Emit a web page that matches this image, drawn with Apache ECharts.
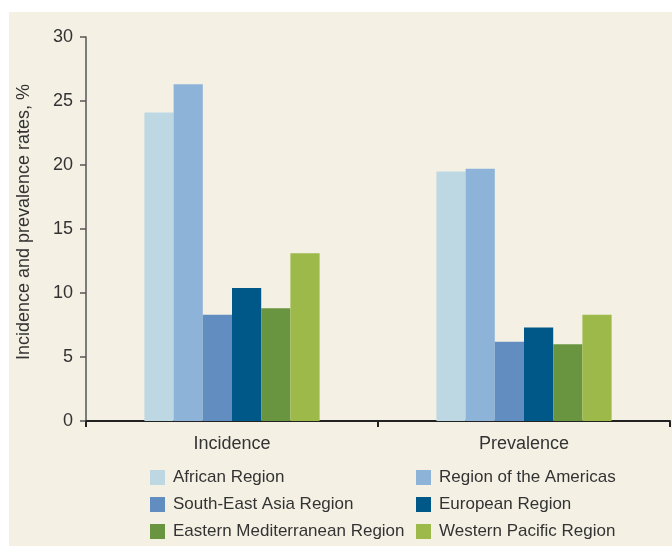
<!DOCTYPE html>
<html><head><meta charset="utf-8">
<script src="https://cdn.jsdelivr.net/npm/echarts@6/dist/echarts.min.js"></script>
<style>html,body{margin:0;padding:0;background:#fff}#c{width:672px;height:546px}</style>
</head><body><div id="c"></div>
<script>
var categories = ['Incidence', 'Prevalence'];
var regions = ['African Region', 'Region of the Americas', 'South-East Asia Region', 'European Region', 'Eastern Mediterranean Region', 'Western Pacific Region'];
var african = [24.1, 19.5];
var americas = [26.3, 19.7];
var southEastAsia = [8.3, 6.2];
var european = [10.4, 7.3];
var easternMed = [8.8, 6.0];
var westernPacific = [13.1, 8.3];
var yTicks = [0, 5, 10, 15, 20, 25, 30];

var values = [african, americas, southEastAsia, european, easternMed, westernPacific];
var colors = ['#BDD7E3', '#8DB3D9', '#628DC0', '#005888', '#6A9540', '#9DB94A'];
var FONT = "'Liberation Sans', Arial, sans-serif";
var TXT = '#333333';

var chart = echarts.init(document.getElementById('c'), null, {renderer: 'canvas'});
var legendText = {fontFamily: FONT, fontSize: 17, color: TXT, padding: [0, 0, 0, 3]};
var legendPos = [[150, 469], [416, 469], [150, 496], [416, 496], [150, 523], [416, 523]];
chart.setOption({
  animation: false,
  backgroundColor: '#ffffff',
  graphic: [{type: 'rect', left: 9, top: 12, z: -10, silent: true,
    shape: {width: 663, height: 534}, style: {fill: '#F4F1E4'}}],
  grid: {left: 86, right: 2, top: 37, bottom: 125, containLabel: false},
  legend: regions.map(function (name, i) {
    return {data: [name], left: legendPos[i][0], top: legendPos[i][1], padding: 0,
      itemWidth: 15, itemHeight: 15, itemGap: 0, icon: 'rect', textStyle: legendText};
  }),
  xAxis: {
    type: 'category', data: categories,
    axisLine: {lineStyle: {color: '#222', width: 2}},
    axisTick: {show: true, length: 6, lineStyle: {color: '#222', width: 2}},
    axisLabel: {fontFamily: FONT, fontSize: 18, color: TXT, margin: 14}
  },
  yAxis: {
    type: 'value', min: yTicks[0], max: yTicks[yTicks.length - 1], interval: yTicks[1] - yTicks[0],
    name: 'Incidence and prevalence rates, %', nameLocation: 'middle', nameGap: 53,
    nameTextStyle: {fontFamily: FONT, fontSize: 18, color: TXT, padding: [0, 0, 0, 14]},
    axisLine: {show: true, lineStyle: {color: '#555', width: 1.5}},
    axisTick: {show: true, length: 6, lineStyle: {color: '#555', width: 1.5}},
    splitLine: {show: false},
    axisLabel: {fontFamily: FONT, fontSize: 18, color: TXT, margin: 13}
  },
  series: regions.map(function (name, i) {
    return {name: name, type: 'bar', data: values[i], barGap: 0, barCategoryGap: '40%',
      itemStyle: {color: colors[i]}};
  })
});
</script></body></html>
